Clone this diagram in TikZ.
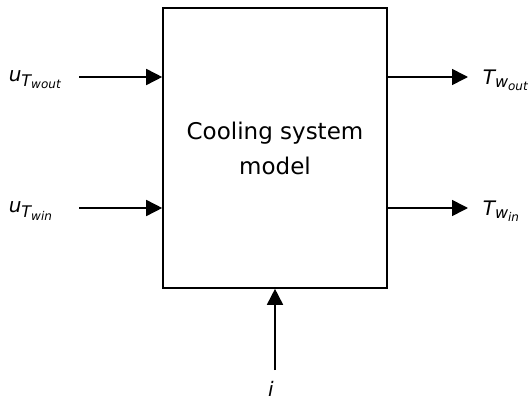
\documentclass[tikz,border=0pt]{standalone}
\usepackage{amsmath}
\usepackage{fontspec}
\setmainfont{DejaVu Sans}
\DeclareMathSizes{20}{20}{16}{12}
\usetikzlibrary{arrows.meta,positioning}

\begin{document}
\begin{tikzpicture}[x=1pt, y=-1pt, >={Triangle[length=16pt,width=16pt]},
  line width=1.6pt,
  sysbox/.style={draw, minimum width=224pt, minimum height=280pt, align=center, font=\fontsize{23}{35}\selectfont},
  sig/.style={inner sep=0pt, font=\fontsize{20}{24}\selectfont}]
\useasboundingbox (0,0) rectangle (530,401);
\node[sysbox] (sys) at (275,148) {Cooling system\\model};
% inputs
\node[sig, anchor=west] (uout) at (8,80) {$\textit{u}_{\textit{T}_{\textit{wout}}}$};
\node[sig, anchor=west] (uin) at (8,211) {$\textit{u}_{\textit{T}_{\textit{win}}}$};
\coordinate (uoutend) at (79,77);
\coordinate (uinend) at (79,208);
\draw[->] (uoutend) -- (uoutend -| sys.west);
\draw[->] (uinend) -- (uinend -| sys.west);
% outputs
\node[sig, anchor=west] (tout) at (482,80) {$\textit{T}_{\textit{w}_{\textit{out}}}$};
\node[sig, anchor=west] (tin) at (482,211) {$\textit{T}_{\textit{w}_{\textit{in}}}$};
\coordinate (toutend) at (468,77);
\coordinate (tinend) at (468,208);
\draw[->] (toutend -| sys.east) -- (toutend);
\draw[->] (tinend -| sys.east) -- (tinend);
% current
\node[sig] (cur) at (271,389) {\textit{i}};
\coordinate (curend) at (275,370);
\draw[->] (curend) -- (curend |- sys.south);
\end{tikzpicture}
\end{document}
